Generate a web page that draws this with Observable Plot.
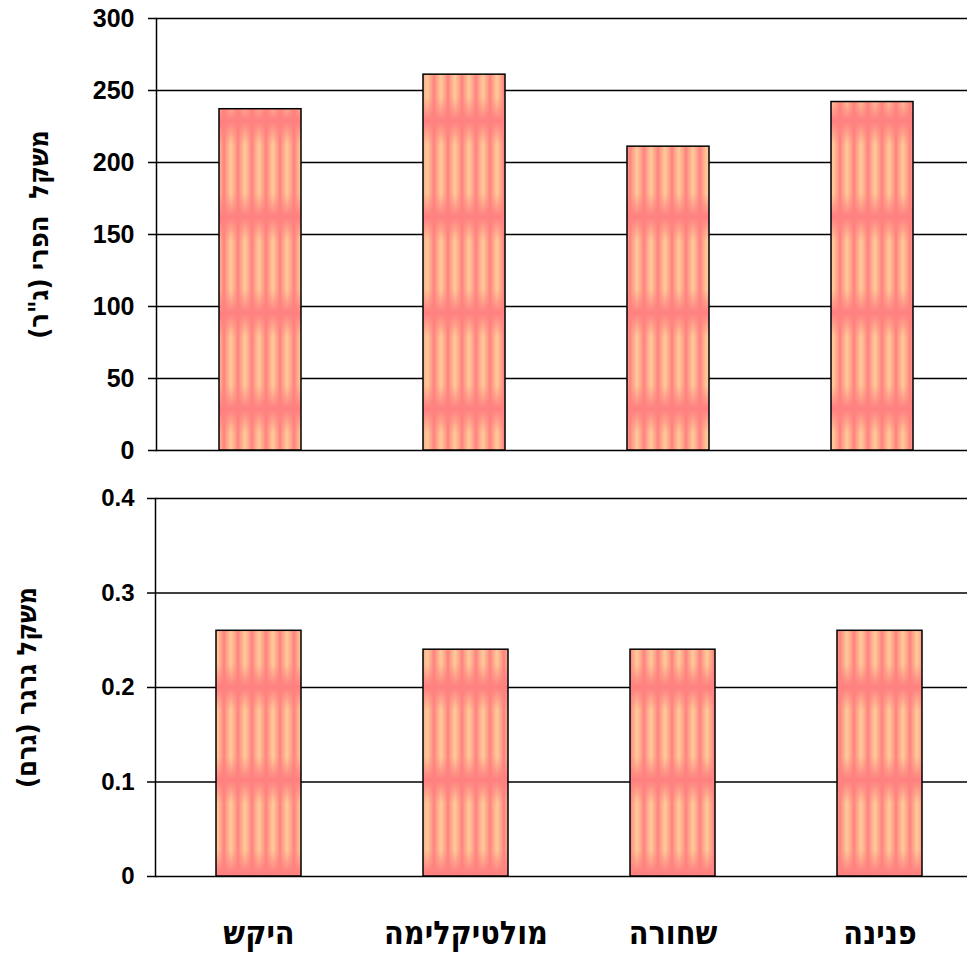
<!DOCTYPE html>
<html>
<head>
<meta charset="utf-8">
<script src="https://cdn.jsdelivr.net/npm/d3@7"></script>
<script src="https://cdn.jsdelivr.net/npm/@observablehq/plot@0.6"></script>
<style>
  html, body { margin: 0; padding: 0; background: #fff; }
  #chart { width: 967px; }
  #chart svg { display: block; overflow: visible; font-family: Arial, "Liberation Sans", "DejaVu Sans", sans-serif; font-weight: bold; }
  #chart g[aria-label="y-axis label"] text { font-size: 27px !important; font-family: "DejaVu Sans Condensed", "DejaVu Sans", sans-serif; font-weight: bold; }
  #chart g[aria-label="x-axis tick label"] text { font-size: 32px !important; font-family: "DejaVu Sans Condensed", "DejaVu Sans", sans-serif; font-weight: bold; }
  #chart .topc g[aria-label="y-axis tick label"] text { font-size: 25px !important; }
  #chart .botc g[aria-label="y-axis tick label"] text { font-size: 24px !important; }
</style>
</head>
<body>
<div id="chart"></div>
<script>
const categories = ["היקש", "מולטיקלימה", "שחורה", "פנינה"];
const fruitWeight = [237, 261, 211, 242];
const seedWeight = [0.26, 0.24, 0.24, 0.26];
const fruitTicks = [0, 50, 100, 150, 200, 250, 300];
const seedTicks = [0, 0.1, 0.2, 0.3, 0.4];
const fruitLabel = "משקל  הפרי (ג\"ר)";
const seedLabel = "משקל גרגר (גרם)";

const fruitData = categories.map((c, i) => ({cat: c, value: fruitWeight[i]}));
const seedData = categories.map((c, i) => ({cat: c, value: seedWeight[i]}));

function texture(id, offsetY, period) {
  return () => {
    const g = d3.create("svg:g");
    const defs = g.append("defs");
    const hg = defs.append("linearGradient").attr("id", id + "-h").attr("x1", 0).attr("x2", 1).attr("y1", 0).attr("y2", 0);
    [[0, "#FF8080"], [0.15, "#FF9C88"], [0.5, "#FFCC99"], [0.85, "#FF9C88"], [1, "#FF8080"]]
      .forEach(([o, c]) => hg.append("stop").attr("offset", o).attr("stop-color", c));
    const vg = defs.append("linearGradient").attr("id", id + "-v").attr("x1", 0).attr("x2", 0).attr("y1", 0).attr("y2", 1);
    [[0, 1], [0.25, 0], [0.75, 0], [1, 1]]
      .forEach(([o, a]) => vg.append("stop").attr("offset", o).attr("stop-color", "#FF8080").attr("stop-opacity", a));
    const p = defs.append("pattern").attr("id", id).attr("patternUnits", "userSpaceOnUse")
      .attr("x", 0).attr("y", offsetY).attr("width", 14).attr("height", period);
    p.append("rect").attr("width", 14).attr("height", period).attr("fill", `url(#${id}-h)`);
    p.append("rect").attr("width", 14).attr("height", period).attr("fill", `url(#${id}-v)`);
    return g.node();
  };
}

const topChart = Plot.plot({
  className: "topc",
  width: 967,
  height: 460,
  marginLeft: 156,
  marginRight: 0,
  marginTop: 18,
  marginBottom: 10,
  style: {fontSize: "24px", fontWeight: "bold", color: "#000"},
  x: {domain: categories, range: [156, 975], paddingInner: 0.6, paddingOuter: 0.3, axis: null},
  y: {domain: [0, 300], ticks: fruitTicks},
  marks: [
    texture("tex1", 25, 96),
    Plot.gridY(fruitTicks, {stroke: "#000", strokeOpacity: 1, strokeWidth: 1.5}),
    Plot.barY(fruitData, {x: "cat", y: "value", fill: "url(#tex1)", stroke: "#000", strokeWidth: 1.5}),
    Plot.frame({anchor: "left", stroke: "#000", strokeWidth: 1.5}),
    Plot.axisY(fruitTicks, {tickSize: 8, tickPadding: 14, strokeWidth: 1.5,
      label: fruitLabel, labelAnchor: "center", labelOffset: 128, labelArrow: "none"})
  ]
});

const bottomChart = Plot.plot({
  className: "botc",
  width: 967,
  height: 495,
  marginLeft: 155,
  marginRight: 0,
  marginTop: 38,
  marginBottom: 79,
  style: {fontSize: "24px", fontWeight: "bold", color: "#000"},
  x: {domain: categories, range: [154.5, 984], paddingInner: 0.59, paddingOuter: 0.295},
  y: {domain: [0, 0.4], ticks: seedTicks},
  marks: [
    texture("tex2", 41, 93),
    Plot.gridY(seedTicks, {stroke: "#000", strokeOpacity: 1, strokeWidth: 1.5}),
    Plot.barY(seedData, {x: "cat", y: "value", fill: "url(#tex2)", stroke: "#000", strokeWidth: 1.5}),
    Plot.frame({anchor: "left", stroke: "#000", strokeWidth: 1.5}),
    Plot.axisY(seedTicks, {tickSize: 8, tickPadding: 13, strokeWidth: 1.5,
      tickFormat: d => d === 0 ? "0" : d3.format(".1f")(d),
      label: seedLabel, labelAnchor: "center", labelOffset: 139, labelArrow: "none"}),
    Plot.axisX(categories, {tickSize: 0, tickPadding: 45, label: null})
  ]
});

document.getElementById("chart").append(topChart, bottomChart);
</script>
</body>
</html>
